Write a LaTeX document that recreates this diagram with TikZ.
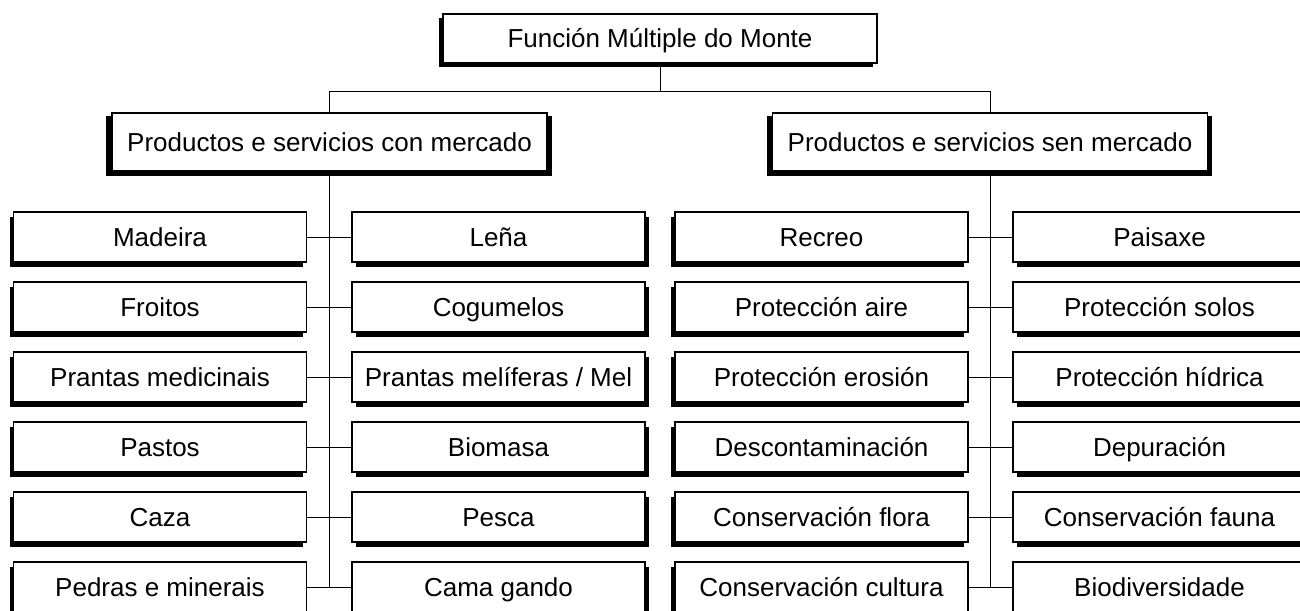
\documentclass[tikz,border=0pt]{standalone}
\usepackage{fontspec}
\setmainfont{Liberation Sans}
\usetikzlibrary{shadows,backgrounds}
\begin{document}
\begin{tikzpicture}[x=1pt,y=-1pt,
  box/.style={draw, fill=white, line width=1.2pt, inner sep=0pt,
    font=\fontsize{26}{30}\selectfont, text height=18.6pt, text depth=0pt},
  leaf/.style={box, minimum width=293pt, minimum height=50pt},
  leafL/.style={leaf, general shadow={fill=black, shadow xshift=-4pt, shadow yshift=-5pt}},
  leafR/.style={leaf, general shadow={fill=black, shadow xshift=4pt, shadow yshift=-5pt}},
  topbox/.style={box, minimum width=434pt, minimum height=49pt,
    general shadow={fill=black, shadow xshift=-4pt, shadow yshift=-4pt}},
  midbox/.style={box, minimum width=435pt, minimum height=58pt},
  link/.style={line width=1pt}]
\useasboundingbox (0,0) rectangle (1300,610);
\clip (0,0) rectangle (1300,610);

\node[topbox] (top) at (660,38.5) {Función Múltiple do Monte};
\node[midbox] (pa) at (329.5,142) {Productos e servicios con mercado};
\node[midbox] (pb) at (990,142) {Productos e servicios sen mercado};
\begin{scope}[on background layer]
  \fill ([shift={(-5,4)}]pa.north west) rectangle ([shift={(4,4)}]pa.south east);
  \fill ([shift={(-5,4)}]pb.north west) rectangle ([shift={(4,4)}]pb.south east);
\end{scope}

% left group
\node[leafL] (a1) at (160,237) {Madeira};
\node[leafL] (a2) at (160,307) {Froitos};
\node[leafL] (a3) at (160,377) {Prantas medicinais};
\node[leafL] (a4) at (160,447) {Pastos};
\node[leafL] (a5) at (160,517) {Caza};
\node[leafL] (a6) at (160,587) {Pedras e minerais};
\node[leafR] (b1) at (498.5,237) {Leña};
\node[leafR] (b2) at (498.5,307) {Cogumelos};
\node[leafR] (b3) at (498.5,377) {Prantas melíferas / Mel};
\node[leafR] (b4) at (498.5,447) {Biomasa};
\node[leafR] (b5) at (498.5,517) {Pesca};
\node[leafR] (b6) at (498.5,587) {Cama gando};

% right group
\node[leafL] (c1) at (821.5,237) {Recreo};
\node[leafL] (c2) at (821.5,307) {Protección aire};
\node[leafL] (c3) at (821.5,377) {Protección erosión};
\node[leafL] (c4) at (821.5,447) {Descontaminación};
\node[leafL] (c5) at (821.5,517) {Conservación flora};
\node[leafL] (c6) at (821.5,587) {Conservación cultura};
\node[leafR] (d1) at (1159.5,237) {Paisaxe};
\node[leafR] (d2) at (1159.5,307) {Protección solos};
\node[leafR] (d3) at (1159.5,377) {Protección hídrica};
\node[leafR] (d4) at (1159.5,447) {Depuración};
\node[leafR] (d5) at (1159.5,517) {Conservación fauna};
\node[leafR] (d6) at (1159.5,587) {Biodiversidade};

\coordinate (j) at (660,91);
\draw[link] (top.south) -- (j);
\draw[link] (pa.north) -- (pa.north |- j) -- (pb.north |- j) -- (pb.north);

\draw[link] (pa.south) -- (pa.south |- a6.east);
\draw[link] (pb.south) -- (pb.south |- c6.east);
\foreach \i in {1,...,6}{
  \draw[link] (a\i.east) -- (b\i.west);
  \draw[link] (c\i.east) -- (d\i.west);
}
\end{tikzpicture}
\end{document}
